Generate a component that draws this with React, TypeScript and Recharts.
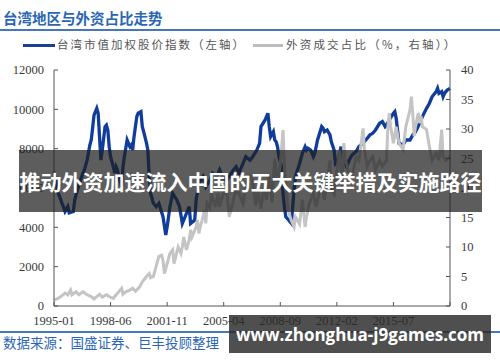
import { LineChart, Line, XAxis, YAxis } from "recharts";

// month index 0 = 1995-01
const monthTicks = [0, 41, 82, 123, 164, 205, 246, 287];
const tickLabels = ["1995-01", "1998-06", "2001-11", "2005-04", "2008-09", "2012-02", "2015-07", ""];
const leftTicks = [0, 2000, 4000, 6000, 8000, 10000, 12000];
const rightTicks = [0, 5, 10, 15, 20, 25, 30, 35, 40];

const indexMonths = [
  0, 3, 5, 8, 10, 11, 14, 15, 17, 20, 22, 24, 26, 27, 28, 29, 31, 32, 33, 34, 35, 37, 38, 39, 40, 41, 43, 44, 45,
  46, 47, 49, 50, 51, 53, 55, 56, 57, 58, 60, 61, 63, 64, 65, 67, 68, 69, 70, 72, 74, 76, 79, 81, 82, 84, 86, 89,
  91, 93, 96, 98, 99, 102, 103, 105, 108, 110, 113, 115, 118, 120, 122, 125, 127, 130, 132, 134, 137, 139, 142,
  144, 147, 149, 150, 153, 155, 156, 157, 159, 160, 161, 162, 163, 165, 166, 167, 168, 170, 172, 173, 174, 175,
  178, 180, 182, 183, 184, 186, 188, 189, 191, 194, 195, 196, 198, 200, 201, 203, 204, 206, 207, 208, 209, 212,
  214, 216, 219, 221, 224, 226, 229, 231, 233, 236, 238, 240, 241, 243, 246, 247, 248, 249, 250, 253, 255, 258,
  260, 262, 265, 267, 270, 272, 274, 277, 278, 279, 281, 282, 283, 284, 285, 287,
];
const indexValues = [
  6830, 5750, 5390, 4800, 5050, 4730, 4800, 5390, 5900, 6575, 6920, 7420, 8190, 8440, 9050, 9710, 10050, 9800,
  8610, 7420, 7930, 9120, 9200, 8950, 8100, 7590, 7080, 6750, 7080, 6920, 6575, 6070, 7080, 7590, 8440, 8100,
  8190, 7930, 8610, 9630, 9800, 9880, 9120, 8860, 8290, 7930, 6575, 5740, 5220, 5050, 5220, 4540, 3610, 4030,
  5050, 5730, 5390, 5050, 4200, 4710, 5050, 4200, 4370, 5390, 6240, 6575, 6070, 6400, 6750, 6575, 6920, 6575,
  6400, 6575, 6920, 7080, 6750, 7250, 7590, 7420, 7590, 7930, 8270, 9120, 9460, 9800, 9120, 8610, 8860, 8440,
  8350, 8100, 7590, 7080, 5730, 5050, 4540, 4370, 4200, 5050, 5900, 6575, 7250, 7760, 8100, 7930, 8020, 7930,
  7590, 7760, 8440, 9120, 9040, 8860, 8950, 8700, 8350, 7930, 7250, 7420, 7760, 8100, 7420, 7080, 7420, 7680,
  7850, 8100, 8270, 8440, 8700, 8780, 8950, 9290, 9380, 9120, 9200, 9460, 9800, 9880, 9540, 8950, 8270, 8190,
  8440, 8440, 8700, 8860, 9290, 9630, 10050, 10300, 10640, 10900, 11070, 10810, 10900, 10640, 10810, 10900,
  10980, 11070,
];

const shareMonths = [
  0, 3, 5, 8, 10, 12, 13, 16, 18, 21, 24, 27, 29, 31, 33, 35, 38, 40, 43, 45, 47, 49, 50, 52, 55, 57, 59, 62, 64,
  67, 69, 70, 72, 74, 76, 78, 79, 80, 82, 84, 86, 87, 90, 92, 93, 94, 96, 98, 99, 100, 103, 104, 105, 106, 108,
  109, 110, 111, 113, 114, 117, 118, 119, 120, 122, 125, 127, 130, 132, 134, 137, 139, 142, 144, 146, 148, 150,
  152, 154, 156, 158, 160, 162, 164, 166, 167, 168, 170, 172, 174, 175, 178, 180, 182, 183, 185, 188, 190, 192,
  194, 196, 198, 200, 201, 203, 204, 207, 209, 210, 211, 213, 215, 217, 219, 221, 224, 225, 227, 229, 231, 233,
  236, 238, 241, 242, 243, 244, 246, 248, 250, 253, 255, 258, 259, 260, 261, 262, 264, 265, 266, 267, 270, 272,
  274, 277, 279, 281, 282, 284, 287,
];
const shareValues = [
  1.0, 1.3, 1.6, 2.2, 1.9, 2.7, 1.9, 2.4, 1.9, 2.4, 1.9, 1.6, 1.2, 1.6, 2.0, 1.5, 1.9, 1.6, 1.3, 1.9, 2.4, 3.0,
  2.0, 2.4, 2.7, 3.0, 2.5, 3.2, 4.1, 5.0, 5.5, 4.8, 5.0, 6.7, 8.4, 8.6, 7.8, 5.5, 7.2, 8.9, 9.5, 7.2, 10.0, 8.9,
  10.0, 11.7, 9.5, 11.2, 12.9, 11.7, 13.4, 14.6, 12.3, 13.4, 15.1, 16.3, 14.0, 17.4, 16.6, 19.1, 16.8, 18.0,
  19.1, 16.8, 18.5, 20.2, 15.1, 18.0, 19.7, 19.1, 17.4, 20.2, 22.0, 21.4, 17.0, 19.5, 16.5, 20.0, 18.0, 22.0,
  17.5, 25.0, 21.0, 24.0, 29.8, 24.0, 20.0, 16.0, 14.5, 13.4, 15.1, 13.9, 18.0, 13.4, 15.1, 17.4, 19.1, 16.8,
  19.0, 20.2, 18.0, 21.0, 24.7, 20.0, 19.0, 21.0, 26.4, 20.2, 27.6, 25.0, 23.2, 21.5, 23.1, 25.3, 24.7, 30.1,
  26.5, 23.7, 24.7, 25.3, 23.1, 24.7, 23.7, 24.7, 30.4, 32.7, 30.4, 27.6, 30.4, 27.6, 26.5, 30.4, 33.2, 35.5,
  32.7, 28.8, 30.4, 32.7, 31.0, 32.2, 30.4, 29.9, 27.1, 24.7, 25.9, 24.7, 29.9, 25.3, 24.7, 25.3,
];

const indexData = indexMonths.map((m, i) => ({ m, v: indexValues[i] }));
const shareData = shareMonths.map((m, i) => ({ m, v: shareValues[i] }));

const tickFont = { fill: "#3a3a3a", fontSize: 12.5, fontFamily: "Liberation Serif" };
const blue = "#2a66b4";

export default function App() {
  return (
    <div
      style={{
        position: "absolute",
        left: 0,
        top: 0,
        width: 500,
        height: 362,
        background: "#fff",
        overflow: "hidden",
        fontFamily: "'Noto Sans CJK SC', sans-serif",
      }}
    >
      <LineChart width={500} height={362} margin={{ top: 70, right: 0, bottom: 26, left: 0 }}>
        <XAxis
          dataKey="m"
          type="number"
          domain={[0, 287]}
          ticks={monthTicks}
          tickFormatter={(v: number) => tickLabels[monthTicks.indexOf(v)] ?? ""}
          height={30}
          stroke="#555"
          tickSize={-4}
          tickMargin={14}
          tick={tickFont}
          interval={0}
        />
        <YAxis
          yAxisId="left"
          domain={[0, 12000]}
          ticks={leftTicks}
          width={54}
          stroke="#555"
          tickSize={-4}
          tickMargin={14}
          tick={tickFont}
          interval={0}
        />
        <YAxis
          yAxisId="right"
          orientation="right"
          domain={[0, 40]}
          ticks={rightTicks}
          width={50}
          stroke="#555"
          tickSize={-4}
          tickMargin={15}
          tick={tickFont}
          interval={0}
        />
        <Line
          yAxisId="left"
          data={indexData}
          dataKey="v"
          type="linear"
          stroke="#103d9c"
          strokeWidth={3.3}
          dot={false}
          isAnimationActive={false}
        />
        <Line
          yAxisId="right"
          data={shareData}
          dataKey="v"
          type="linear"
          stroke="#c4c4c4"
          strokeWidth={3}
          dot={false}
          isAnimationActive={false}
        />
      </LineChart>

      <div style={{ position: "absolute", left: 3, top: 11, fontSize: 14.5, lineHeight: 1, fontWeight: 700, color: blue }}>
        台湾地区与外资占比走势
      </div>
      <div style={{ position: "absolute", left: 0, top: 29, width: 500, height: 2, background: "#4677bd" }} />

      <div style={{ position: "absolute", left: 23, top: 44, width: 32, height: 2.5, background: "#1b3f94" }} />
      <div style={{ position: "absolute", left: 57, top: 39, fontSize: 11.5, lineHeight: 1, letterSpacing: 2, color: "#555" }}>
        台湾市值加权股价指数（左轴）
      </div>
      <div style={{ position: "absolute", left: 253, top: 44, width: 30, height: 2.5, background: "#bdbdbd" }} />
      <div style={{ position: "absolute", left: 286, top: 39, fontSize: 11.5, lineHeight: 1, letterSpacing: 2.2, color: "#555" }}>
        外资成交占比（%，右轴））
      </div>

      <div style={{ position: "absolute", left: 0, top: 331, width: 500, height: 2, background: "#4677bd" }} />
      <div style={{ position: "absolute", left: 3, top: 336, fontSize: 13.5, lineHeight: 1, color: blue }}>
        数据来源：国盛证券、巨丰投顾整理
      </div>

      <div
        style={{
          position: "absolute",
          left: 19,
          top: 150,
          width: 463,
          height: 62,
          background: "rgba(30,30,30,0.72)",
          color: "#fff",
          fontWeight: 700,
          fontSize: 21,
          display: "flex",
          alignItems: "center",
          justifyContent: "center",
          whiteSpace: "nowrap",
        }}
      >
        推动外资加速流入中国的五大关键举措及实施路径
      </div>
      <div
        style={{
          position: "absolute",
          left: 229,
          top: 315,
          width: 262,
          height: 38,
          background: "rgba(40,40,40,0.82)",
          color: "#fff",
          fontWeight: 700,
          fontSize: 17,
          fontFamily: "'Open Sans', sans-serif",
          display: "flex",
          alignItems: "center",
          justifyContent: "center",
          whiteSpace: "nowrap",
        }}
      >
        www.zhonghua-j9games.com
      </div>
    </div>
  );
}
